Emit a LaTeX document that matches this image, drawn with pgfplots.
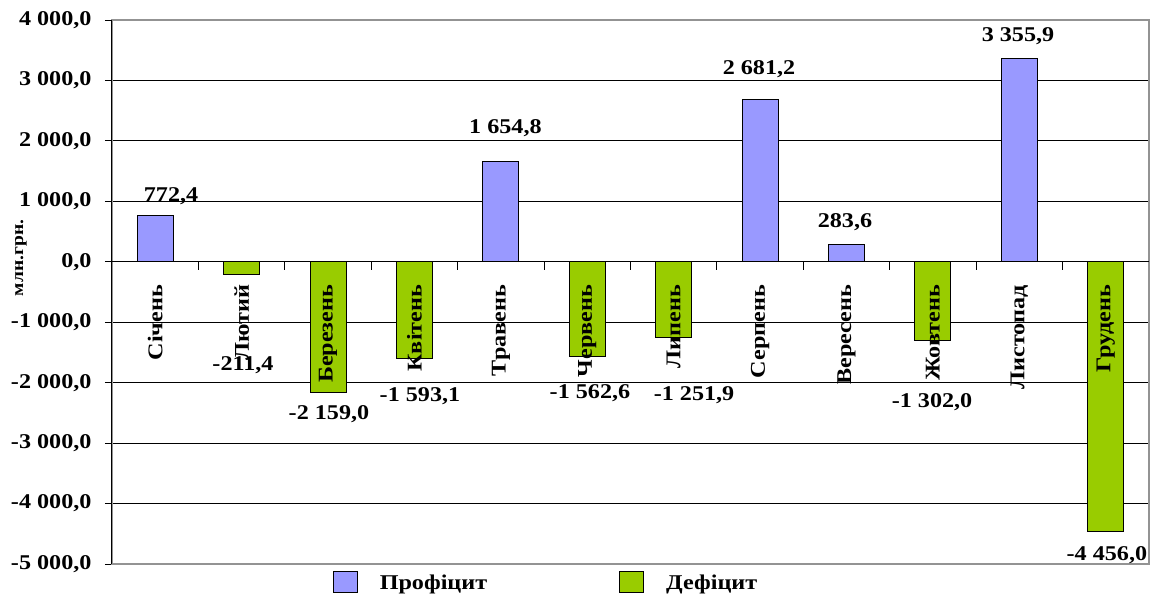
\documentclass[border=0pt]{standalone}
\usepackage{pgfplots}
\pgfplotsset{compat=1.18}
\usepackage{fontspec}
\setmainfont{Liberation Serif}[FakeStretch=1.15]
\definecolor{prof}{HTML}{9999FF}
\definecolor{def}{HTML}{99CC00}
\newcommand\lab{\fontsize{21}{25}\selectfont\bfseries}
\newcommand\ylab{\fontsize{17}{20}\selectfont\bfseries}
\pgfplotsset{sq legend/.style={legend image code/.code={\draw[##1] (0pt,-9pt) rectangle (24pt,12pt);}}}
\begin{document}
\begin{tikzpicture}
\useasboundingbox (-112pt,-34pt) rectangle (1038pt,564pt);
\begin{axis}[
 scale only axis, width=1037pt, height=544pt,
 at={(0,0)}, anchor=south west,
 xmin=-0.5, xmax=11.5, ymin=-5000, ymax=4000,
 xtick=\empty,
 ytick={-5000,-4000,-3000,-2000,-1000,0,1000,2000,3000,4000},
 yticklabels={{-5 000,0},{-4 000,0},{-3 000,0},{-2 000,0},{-1 000,0},{0,0},{1 000,0},{2 000,0},{3 000,0},{4 000,0}},
 yticklabel style={font=\lab, xshift=-10pt},
 tick align=outside, major tick length=7pt,
 ytick style={black, line width=1pt},
 ymajorgrids, grid style={black, line width=1pt},
 axis line style={draw=gray!85, line width=1.2pt},
 clip=false,
 legend columns=2,
 legend cell align=left,
 legend style={draw=none, fill=none, font=\lab,
   at={(axis description cs:0.4185,-0.033)}, anchor=center,
   /tikz/every odd column/.append style={column sep=20pt},
   /tikz/every even column/.append style={column sep=130pt}},
]
\addplot[ybar, bar width=36pt, bar shift=0pt, fill=prof, draw=black, line width=1pt, sq legend]
  coordinates {(0,772.4) (4,1654.8) (7,2681.2) (8,283.6) (10,3355.9)};
\addlegendentry{Профіцит}
\addplot[ybar, bar width=36pt, bar shift=0pt, fill=def, draw=black, line width=1pt, sq legend]
  coordinates {(1,-211.4) (2,-2159.0) (3,-1593.1) (5,-1562.6) (6,-1251.9) (9,-1302.0) (11,-4456.0)};
\addlegendentry{Дефіцит}
% left axis line and zero line
\draw[black, line width=1pt] (axis cs:-0.5,-5000) -- (axis cs:-0.5,4000);
\draw[black, line width=1pt] (axis cs:-0.5,0) -- (axis cs:11.5,0);
\draw[black, line width=1pt] (axis cs:0.5,0) -- ++(0pt,-8pt);
\draw[black, line width=1pt] (axis cs:1.5,0) -- ++(0pt,-8pt);
\draw[black, line width=1pt] (axis cs:2.5,0) -- ++(0pt,-8pt);
\draw[black, line width=1pt] (axis cs:3.5,0) -- ++(0pt,-8pt);
\draw[black, line width=1pt] (axis cs:4.5,0) -- ++(0pt,-8pt);
\draw[black, line width=1pt] (axis cs:5.5,0) -- ++(0pt,-8pt);
\draw[black, line width=1pt] (axis cs:6.5,0) -- ++(0pt,-8pt);
\draw[black, line width=1pt] (axis cs:7.5,0) -- ++(0pt,-8pt);
\draw[black, line width=1pt] (axis cs:8.5,0) -- ++(0pt,-8pt);
\draw[black, line width=1pt] (axis cs:9.5,0) -- ++(0pt,-8pt);
\draw[black, line width=1pt] (axis cs:10.5,0) -- ++(0pt,-8pt);
% month labels
\tikzset{mon/.style={rotate=90, anchor=east, inner sep=0pt, font=\lab}}
\node[mon] at ([yshift=-23pt]axis cs:0,0) {Січень};
\node[mon] at ([yshift=-23pt]axis cs:1,0) {Лютий};
\node[mon] at ([yshift=-23pt]axis cs:2,0) {Березень};
\node[mon] at ([yshift=-23pt]axis cs:3,0) {Квітень};
\node[mon] at ([yshift=-23pt]axis cs:4,0) {Травень};
\node[mon] at ([yshift=-23pt]axis cs:5,0) {Червень};
\node[mon] at ([yshift=-23pt]axis cs:6,0) {Липень};
\node[mon] at ([yshift=-23pt]axis cs:7,0) {Серпень};
\node[mon] at ([yshift=-23pt]axis cs:8,0) {Вересень};
\node[mon] at ([yshift=-23pt]axis cs:9,0) {Жовтень};
\node[mon] at ([yshift=-23pt]axis cs:10,0) {Листопад};
\node[mon] at ([yshift=-23pt]axis cs:11,0) {Грудень};
% data labels
\tikzset{dl/.style={inner sep=0pt, font=\lab}}
\node[dl] at (axis cs:0.183,1089) {772,4};
\node[dl] at (axis cs:1.016,-1708) {-211,4};
\node[dl] at (axis cs:2.011,-2518) {-2 159,0};
\node[dl] at (axis cs:3.064,-2220) {-1 593,1};
\node[dl] at (axis cs:4.053,2214) {1 654,8};
\node[dl] at (axis cs:5.031,-2179) {-1 562,6};
\node[dl] at (axis cs:6.235,-2204) {-1 251,9};
\node[dl] at (axis cs:6.987,3182) {2 681,2};
\node[dl] at (axis cs:7.982,650) {283,6};
\node[dl] at (axis cs:8.989,-2320) {-1 302,0};
\node[dl] at (axis cs:9.984,3728) {3 355,9};
\node[dl] at (axis cs:11.013,-4852) {-4 456,0};
% y label
\node[rotate=90, inner sep=0pt, font=\ylab] at ([xshift=-91pt]axis cs:-0.5,63) {млн.грн.};
\end{axis}
\end{tikzpicture}
\end{document}
